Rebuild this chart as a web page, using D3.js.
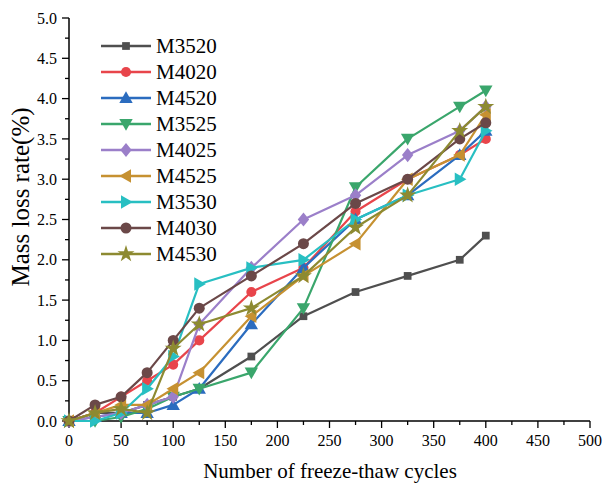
<!DOCTYPE html>
<html><head><meta charset="utf-8">
<script src="https://cdn.jsdelivr.net/npm/d3@7"></script>
<style>body{margin:0;background:#fff}svg{display:block}text{font-family:"Liberation Serif","Times New Roman",serif;fill:#000}</style>
</head><body><div id="chart"></div>
<script>
const cycles = [0, 25, 50, 75, 100, 125, 175, 225, 275, 325, 375, 400];
const seriesNames = ["M3520","M4020","M4520","M3525","M4025","M4525","M3530","M4030","M4530"];
const M3520 = [0, 0.1, 0.1, 0.2, 0.3, 0.4, 0.8, 1.3, 1.6, 1.8, 2.0, 2.3];
const M4020 = [0, 0.1, 0.3, 0.5, 0.7, 1.0, 1.6, 1.9, 2.6, 3.0, 3.3, 3.5];
const M4520 = [0, 0.05, 0.1, 0.1, 0.2, 0.4, 1.2, 1.9, 2.5, 2.8, 3.3, 3.6];
const M3525 = [0, 0.0, 0.05, 0.15, 0.3, 0.4, 0.6, 1.4, 2.9, 3.5, 3.9, 4.1];
const M4025 = [0, 0.05, 0.1, 0.2, 0.3, 1.2, 1.9, 2.5, 2.8, 3.3, 3.6, 3.9];
const M4525 = [0, 0.1, 0.2, 0.2, 0.4, 0.6, 1.3, 1.8, 2.2, 3.0, 3.3, 3.8];
const M3530 = [0, 0.0, 0.1, 0.4, 0.8, 1.7, 1.9, 2.0, 2.5, 2.8, 3.0, 3.6];
const M4030 = [0, 0.2, 0.3, 0.6, 1.0, 1.4, 1.8, 2.2, 2.7, 3.0, 3.5, 3.7];
const M4530 = [0, 0.1, 0.15, 0.1, 0.9, 1.2, 1.4, 1.8, 2.4, 2.8, 3.6, 3.9];
const seriesValues = [M3520, M4020, M4520, M3525, M4025, M4525, M3530, M4030, M4530];
const colors = ["#4f4f4f","#e8454b","#2b6cbf","#3aa66c","#9b7fc9","#c69131","#28bfc2","#6b4848","#8d8a31"];
const xTicks = [0,50,100,150,200,250,300,350,400,450,500];
const yTicks = [0,0.5,1,1.5,2,2.5,3,3.5,4,4.5,5];

const W = 604, H = 488;
const svg = d3.select("#chart").append("svg").attr("width", W).attr("height", H);
const x = d3.scaleLinear().domain([0, 500]).range([69, 590]);
const y = d3.scaleLinear().domain([0, 5]).range([421, 18]);

// axes
const xMinor = d3.range(0, 501, 25);
const yMinor = d3.range(0, 5.001, 0.25);
const gx = svg.append("g").attr("transform", "translate(0,421)");
gx.append("line").attr("x1", x(0)).attr("x2", x(500)).attr("stroke", "#000").attr("stroke-width", 1.5);
gx.selectAll("line.t").data(xMinor).join("line").attr("class","t")
  .attr("x1", d => x(d)).attr("x2", d => x(d)).attr("y1", 0)
  .attr("y2", d => d % 50 === 0 ? 7 : 4).attr("stroke", "#000").attr("stroke-width", 1.3);
gx.selectAll("text").data(xTicks).join("text")
  .attr("x", d => x(d)).attr("y", 25).attr("text-anchor", "middle")
  .style("font-size", "16px").text(d => d);

const gy = svg.append("g").attr("transform", "translate(69,0)");
gy.append("line").attr("y1", y(0)).attr("y2", y(5)).attr("stroke", "#000").attr("stroke-width", 1.5);
gy.selectAll("line.t").data(yMinor).join("line").attr("class","t")
  .attr("y1", d => y(d)).attr("y2", d => y(d)).attr("x1", 0)
  .attr("x2", (d, i) => i % 2 === 0 ? -7 : -4).attr("stroke", "#000").attr("stroke-width", 1.3);
gy.selectAll("text").data(yTicks).join("text")
  .attr("x", -12).attr("y", d => y(d)).attr("dy", "0.35em").attr("text-anchor", "end")
  .style("font-size", "16px").text(d => d.toFixed(1));

svg.append("text").attr("x", 330).attr("y", 478).attr("text-anchor", "middle")
  .style("font-size", "21px").text("Number of freeze-thaw cycles");
svg.append("text").attr("transform", "translate(29,197) rotate(-90)").attr("text-anchor", "middle")
  .style("font-size", "25px").text("Mass loss rate(%)");

const symbols = [d3.symbolSquare, d3.symbolCircle, "up", "down", "diamond", "left", "right", d3.symbolCircle, d3.symbolStar];
function markerPath(k, size) {
  const s = symbols[k];
  if (typeof s !== "string") return d3.symbol(s, size)();
  const r = Math.sqrt(size) * 0.75;
  if (s === "up") return `M0,${-r}L${r},${r*0.75}L${-r},${r*0.75}Z`;
  if (s === "down") return `M0,${r}L${r},${-r*0.75}L${-r},${-r*0.75}Z`;
  if (s === "left") return `M${-r},0L${r*0.75},${-r}L${r*0.75},${r}Z`;
  if (s === "right") return `M${r},0L${-r*0.75},${-r}L${-r*0.75},${r}Z`;
  if (s === "diamond") return `M0,${-r}L${r*0.8},0L0,${r}L${-r*0.8},0Z`;
}
const sizes = [60, 80, 80, 80, 90, 80, 80, 95, 90];
const line = d3.line().x((d, i) => x(cycles[i])).y(d => y(d));

seriesValues.forEach((vals, k) => {
  const g = svg.append("g");
  g.append("path").datum(vals).attr("d", line).attr("fill", "none")
    .attr("stroke", colors[k]).attr("stroke-width", 2.2).attr("stroke-linejoin", "round");
  g.selectAll("path.m").data(vals).join("path").attr("class","m")
    .attr("transform", (d, i) => `translate(${x(cycles[i])},${y(d)})`)
    .attr("d", markerPath(k, sizes[k])).attr("fill", colors[k]);
});

// legend
const lg = svg.append("g");
seriesNames.forEach((name, k) => {
  const yy = 46 + k * 26;
  lg.append("line").attr("x1", 101).attr("x2", 151).attr("y1", yy).attr("y2", yy)
    .attr("stroke", colors[k]).attr("stroke-width", 2.5);
  lg.append("path").attr("transform", `translate(126,${yy})`).attr("d", markerPath(k, sizes[k])).attr("fill", colors[k]);
  lg.append("text").attr("x", 156).attr("y", yy).attr("dy", "0.35em").style("font-size", "21px").text(name);
});
</script></body></html>
